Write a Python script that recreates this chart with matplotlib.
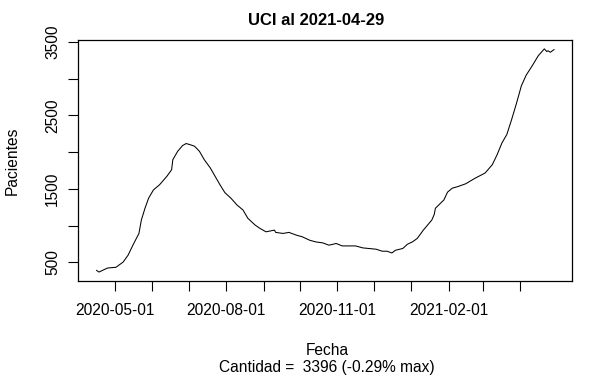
import datetime as dt
import matplotlib
matplotlib.use("Agg")
import matplotlib.pyplot as plt

# Datos (dias desde el inicio, pacientes en UCI)
inicio = dt.date(2020, 4, 16)
dias = [0, 2, 9, 16, 22, 26, 30, 35, 37, 40, 43, 47, 52, 58, 62, 63, 67, 71,
        74, 77, 81, 85, 89, 94, 98, 102, 106, 111, 116, 121, 125, 131, 135,
        140, 147, 148, 154, 159, 165, 170, 176, 181, 187, 192, 198, 203, 209,
        214, 220, 225, 231, 236, 240, 244, 247, 253, 257, 261, 265, 270, 277,
        279, 280, 287, 290, 294, 298, 305, 313, 321, 327, 331, 335, 339, 343,
        347, 351, 355, 360, 365, 370, 372, 373, 375, 378]
pacientes = [390, 367, 422, 432, 504, 596, 733, 893, 1075, 1236, 1373, 1486,
             1555, 1669, 1760, 1897, 2011, 2089, 2117, 2103, 2080, 2011, 1897,
             1784, 1669, 1555, 1449, 1373, 1281, 1212, 1099, 1007, 962, 915,
             938, 907, 893, 907, 870, 847, 801, 778, 764, 733, 756, 723, 723,
             723, 696, 688, 678, 651, 651, 627, 664, 688, 747, 778, 825, 938,
             1075, 1150, 1236, 1349, 1455, 1510, 1528, 1569, 1647, 1715, 1829,
             1966, 2126, 2240, 2445, 2665, 2902, 3048, 3176, 3313, 3406, 3370,
             3380, 3360, 3396]
etiquetas_x = ["2020-05-01", "2020-08-01", "2020-11-01", "2021-02-01"]

fechas = [inicio + dt.timedelta(days=d) for d in dias]
fecha_corte = fechas[-1].isoformat()
ultimo = pacientes[-1]
pct = (ultimo / max(pacientes) - 1) * 100

plt.rcParams["font.family"] = ["Liberation Sans", "DejaVu Sans"]

fig = plt.figure(figsize=(6.14, 3.79), dpi=100)
ax = fig.add_axes([0.1275, 0.2586, 0.8046, 0.636])
ax.plot(fechas, pacientes, color="black", lw=0.75)
ax.margins(x=0.04, y=0.04)

# ticks mensuales, etiqueta cada tres meses
meses = [dt.date(2020 + (4 + i) // 12, (4 + i) % 12 + 1, 1) for i in range(12)]
ax.set_xticks(meses)
ax.set_xticklabels([m.isoformat() if m.isoformat() in etiquetas_x else "" for m in meses])

yt = [500, 1000, 1500, 2000, 2500, 3000, 3500]
ax.set_yticks(yt)
ax.set_yticklabels([str(v) if v % 1000 == 500 else "" for v in yt],
                   rotation=90, va="center")

ax.tick_params(axis="both", length=7, width=0.8, labelsize=11.2, color="black")
ax.tick_params(axis="x", pad=9)
ax.tick_params(axis="y", pad=6)
for s in ax.spines.values():
    s.set_linewidth(0.9)

fig.text(0.5147, 0.945, f"UCI al {fecha_corte}", ha="center", va="center",
         fontsize=12, fontweight="bold")
fig.text(0.5326, 0.052, f"Fecha\nCantidad =  {ultimo} ({pct:.2f}% max)",
         ha="center", va="center", fontsize=11.2, linespacing=1.17)
fig.text(0.0204, 0.575, "Pacientes", rotation=90, ha="center", va="center",
         fontsize=11.2)

fig.savefig("out.png", dpi=100)
